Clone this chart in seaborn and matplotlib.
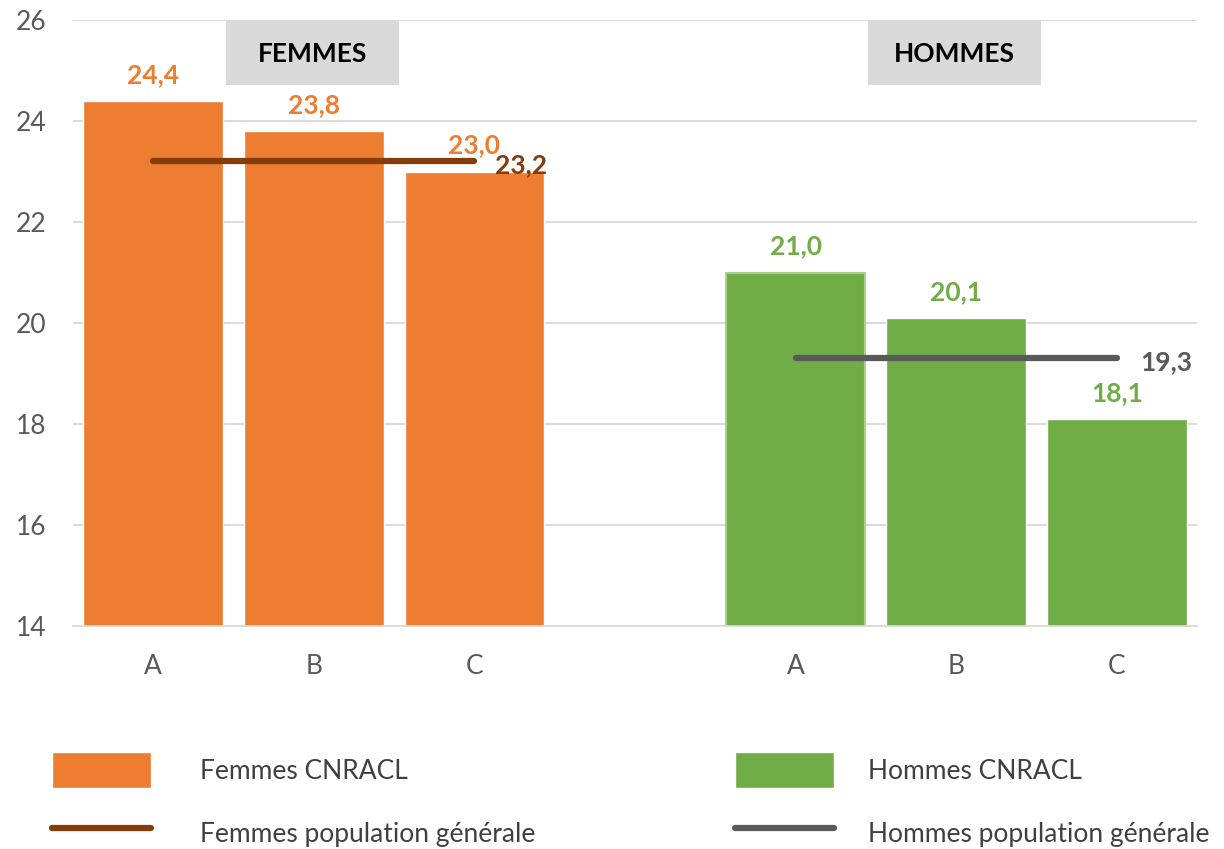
import matplotlib
matplotlib.use('Agg')
import matplotlib.pyplot as plt
import seaborn as sns
import pandas as pd
from matplotlib.patches import Patch, Rectangle
from matplotlib.lines import Line2D

# données
categories = ['A', 'B', 'C']
femmes_cnracl = [24.4, 23.8, 23.0]
hommes_cnracl = [21.0, 20.1, 18.1]
femmes_pop = 23.2
hommes_pop = 19.3

# couleurs
c_femmes = '#ED7D31'
c_hommes = '#70AD47'
c_femmes_pop = '#843C0C'
c_hommes_pop = '#595959'


def fmt(v):
    return f"{v:.1f}".replace('.', ',')


sns.set_theme(style='white')
plt.rcParams['font.family'] = ['Lato', 'DejaVu Sans']
fs = 19

slots_f = ['F-' + c for c in categories]
slots_h = ['H-' + c for c in categories]
order = slots_f + ['-'] + slots_h

df = pd.DataFrame({
    'slot': slots_f + slots_h,
    'valeur': femmes_cnracl + hommes_cnracl,
    'sexe': ['Femmes CNRACL'] * 3 + ['Hommes CNRACL'] * 3,
})

fig = plt.figure(figsize=(12.24, 8.49), dpi=100)
ax = fig.add_axes([73 / 1224, 223 / 849, 1124 / 1224, 606 / 849])

sns.barplot(data=df, x='slot', y='valeur', hue='sexe', order=order,
            palette={'Femmes CNRACL': c_femmes, 'Hommes CNRACL': c_hommes},
            dodge=False, width=0.87, saturation=1, errorbar=None,
            legend=False, ax=ax)

# étiquettes des barres
for cont, col in zip(ax.containers, [c_femmes, c_hommes]):
    ax.bar_label(cont, fmt=fmt, padding=10, color=col, fontsize=fs,
                 fontweight='bold')
# léger contour clair sur la première barre hommes
ax.containers[1].patches[0].set_edgecolor('#A9D18E')
ax.containers[1].patches[0].set_linewidth(1.5)

# lignes population générale
xf0, xf1 = order.index(slots_f[0]), order.index(slots_f[-1])
xh0, xh1 = order.index(slots_h[0]), order.index(slots_h[-1])
ax.plot([xf0, xf1], [femmes_pop, femmes_pop], color=c_femmes_pop, lw=4.5,
        solid_capstyle='round', zorder=4)
ax.plot([xh0, xh1], [hommes_pop, hommes_pop], color=c_hommes_pop, lw=4.5,
        solid_capstyle='round', zorder=4)
ax.annotate(fmt(femmes_pop), xy=(xf1, femmes_pop), xytext=(15, -3),
            textcoords='offset points', ha='left', va='center',
            fontsize=fs, fontweight='bold', color=c_femmes_pop, zorder=5)
ax.annotate(fmt(hommes_pop), xy=(xh1, hommes_pop), xytext=(17, -3),
            textcoords='offset points', ha='left', va='center',
            fontsize=fs, fontweight='bold', color=c_hommes_pop, zorder=5)

# encadrés FEMMES / HOMMES
for xc, txt in [(order.index(slots_f[1]), 'FEMMES'), (order.index(slots_h[1]), 'HOMMES')]:
    ax.add_patch(Rectangle((xc - 0.55, 24.71), 1.08, 1.29, facecolor='#D9D9D9',
                           edgecolor='none', zorder=3, clip_on=False))
    ax.text(xc - 0.01, 25.33, txt, ha='center', va='center', fontsize=fs,
            fontweight='bold', color='black', zorder=4)

# axes
ax.set_xlim(-0.5, 6.5)
ax.set_ylim(14, 26)
ax.set_yticks(range(14, 27, 2))
ax.set_xticks(range(len(order)))
ax.set_xticklabels(categories + [''] + categories)
ax.set_xlabel('')
ax.set_ylabel('')
ax.yaxis.grid(True, color='#D9D9D9', lw=1.3)
ax.set_axisbelow(True)
for s in ['top', 'right', 'left']:
    ax.spines[s].set_visible(False)
ax.spines['bottom'].set_color('#D9D9D9')
ax.spines['bottom'].set_linewidth(1.3)
ax.tick_params(axis='both', length=0, labelsize=fs, labelcolor='#595959')
ax.tick_params(axis='y', pad=19)
ax.tick_params(axis='x', pad=20)

# légendes
leg_kw = dict(loc='upper left', frameon=False, fontsize=fs, handlelength=3.75,
              handleheight=1.75, labelspacing=1.0, borderpad=0,
              borderaxespad=0, labelcolor='#404040')
leg1 = fig.legend(handles=[Patch(facecolor=c_femmes, label='Femmes CNRACL'),
                           Line2D([], [], color=c_femmes_pop, lw=4.5, label='Femmes population générale')],
                  bbox_to_anchor=(52 / 1224, 1 - 752 / 849), handletextpad=1.85, **leg_kw)
leg2 = fig.legend(handles=[Patch(facecolor=c_hommes, label='Hommes CNRACL'),
                           Line2D([], [], color=c_hommes_pop, lw=4.5, label='Hommes population générale')],
                  bbox_to_anchor=(735 / 1224, 1 - 752 / 849), handletextpad=1.3, **leg_kw)

fig.savefig('out.png', dpi=100)
